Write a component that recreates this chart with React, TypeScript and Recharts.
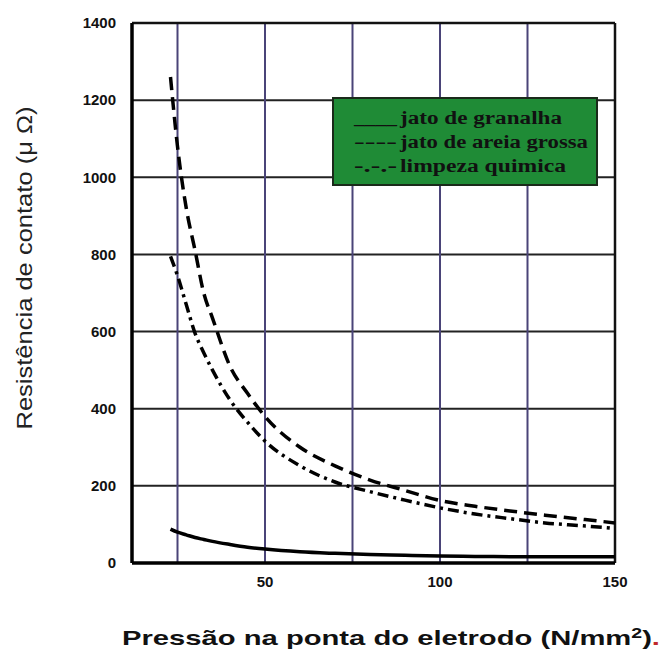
import { LineChart, Line, XAxis, YAxis, CartesianGrid, Legend, Label, ReferenceLine } from "recharts"

const pressure = [23, 25, 27.5, 30, 32.5, 35, 40, 45, 50, 60, 70, 80, 90, 100, 110, 120, 130, 140, 150]
const granalha = [88, 80, 73, 66, 61, 56, 48, 41, 36, 29, 25, 22, 20, 18, 17, 16.5, 16, 16, 16]
const areiaGrossa = [1260, 1080, 920, 811, 700, 635, 510, 440, 380, 300, 252, 215, 188, 162, 147, 135, 124, 114, 104]
const limpezaQuimica = [795, 745, 670, 596, 545, 500, 423, 365, 316, 252, 210, 185, 163, 143, 127, 115, 104, 97, 90]

const xTicks = [25, 50, 75, 100, 125, 150]
const xTickLabels = [50, 100, 150]
const yTicks = [0, 200, 400, 600, 800, 1000, 1200, 1400]

const legendRows = [
  { mark: "____", text: "jato de granalha", len: 162 },
  { mark: "----", text: "jato de areia grossa", len: 188 },
  { mark: "-.-.-", text: "limpeza quimica", len: 166 },
]

const data = pressure.map((p, i) => ({
  p,
  granalha: granalha[i],
  areia: areiaGrossa[i],
  quimica: limpezaQuimica[i],
}))

const sans = "Liberation Sans, Arial, sans-serif"
const serif = "Liberation Serif, Times New Roman, serif"
const tickStyle = { fontSize: 15, fontWeight: 700, fill: "#111", fontFamily: sans }

function GreenLegend() {
  return (
    <svg width={266} height={89} style={{ display: "block" }}>
      <rect x={1} y={1} width={264} height={87} fill="#1f8b36" stroke="#1a2a1a" strokeWidth={2} />
      {legendRows.map((r, i) => (
        <g key={r.text} fill="#111" style={{ fontFamily: serif, fontSize: 18, fontWeight: 700 }}>
          <text x={22} y={27 + i * 24} textLength={43} lengthAdjust="spacingAndGlyphs">{r.mark}</text>
          <text x={68} y={27 + i * 24} textLength={r.len} lengthAdjust="spacingAndGlyphs">{r.text}</text>
        </g>
      ))}
    </svg>
  )
}

export default function App() {
  return (
    <div style={{ position: "absolute", left: 0, top: 0, width: 662, height: 652, background: "#fff" }}>
      <LineChart width={662} height={652} data={data} margin={{ top: 23, right: 47, left: 0, bottom: 0 }}>
        <CartesianGrid horizontal={true} vertical={false} stroke="#222" strokeWidth={2} />
        <CartesianGrid horizontal={false} vertical={true} stroke="#4a4478" strokeWidth={2} />
        <ReferenceLine y={1400} stroke="#111" strokeWidth={2.5} />
        <ReferenceLine x={150} stroke="#111" strokeWidth={2.5} />
        <XAxis
          dataKey="p"
          type="number"
          domain={[12, 150]}
          ticks={xTicks}
          tickFormatter={(v: number) => (xTickLabels.includes(v) ? String(v) : "")}
          tick={tickStyle}
          tickLine={false}
          tickMargin={7}
          axisLine={{ stroke: "#000", strokeWidth: 3.5 }}
          height={89}
        >
          <Label
            content={() => (
              <text
                x={122}
                y={645}
                fill="#111"
                textLength={538}
                lengthAdjust="spacingAndGlyphs"
                style={{ fontSize: 21, fontWeight: 700, fontFamily: sans }}
              >
                Pressão na ponta do eletrodo (N/mm
                <tspan dy={-7} style={{ fontSize: 14 }}>2</tspan>
                <tspan dy={7}>)</tspan>
                <tspan fill="#c0282a">.</tspan>
              </text>
            )}
          />
        </XAxis>
        <YAxis
          type="number"
          domain={[0, 1400]}
          ticks={yTicks}
          tick={tickStyle}
          tickLine={false}
          tickMargin={10}
          axisLine={{ stroke: "#000", strokeWidth: 3.5 }}
          width={132}
        >
          <Label
            content={() => (
              <text
                x={32}
                y={268}
                transform="rotate(-90 32 268)"
                textAnchor="middle"
                fill="#222"
                textLength={323}
                lengthAdjust="spacingAndGlyphs"
                style={{ fontSize: 22, fontFamily: sans }}
              >
                Resistência de contato (μ Ω)
              </text>
            )}
          />
        </YAxis>
        <Legend
          layout="vertical"
          align="center"
          verticalAlign="middle"
          wrapperStyle={{ position: "absolute", left: 332, top: 97, width: 266, height: 89 }}
          content={() => <GreenLegend />}
        />
        <Line type="monotone" dataKey="granalha" stroke="#000" strokeWidth={3.5} dot={false} isAnimationActive={false} />
        <Line type="monotone" dataKey="areia" stroke="#000" strokeWidth={3.5} strokeDasharray="13 7" dot={false} isAnimationActive={false} />
        <Line type="monotone" dataKey="quimica" stroke="#000" strokeWidth={3.5} strokeDasharray="11 5 3 5" dot={false} isAnimationActive={false} />
      </LineChart>
    </div>
  )
}
